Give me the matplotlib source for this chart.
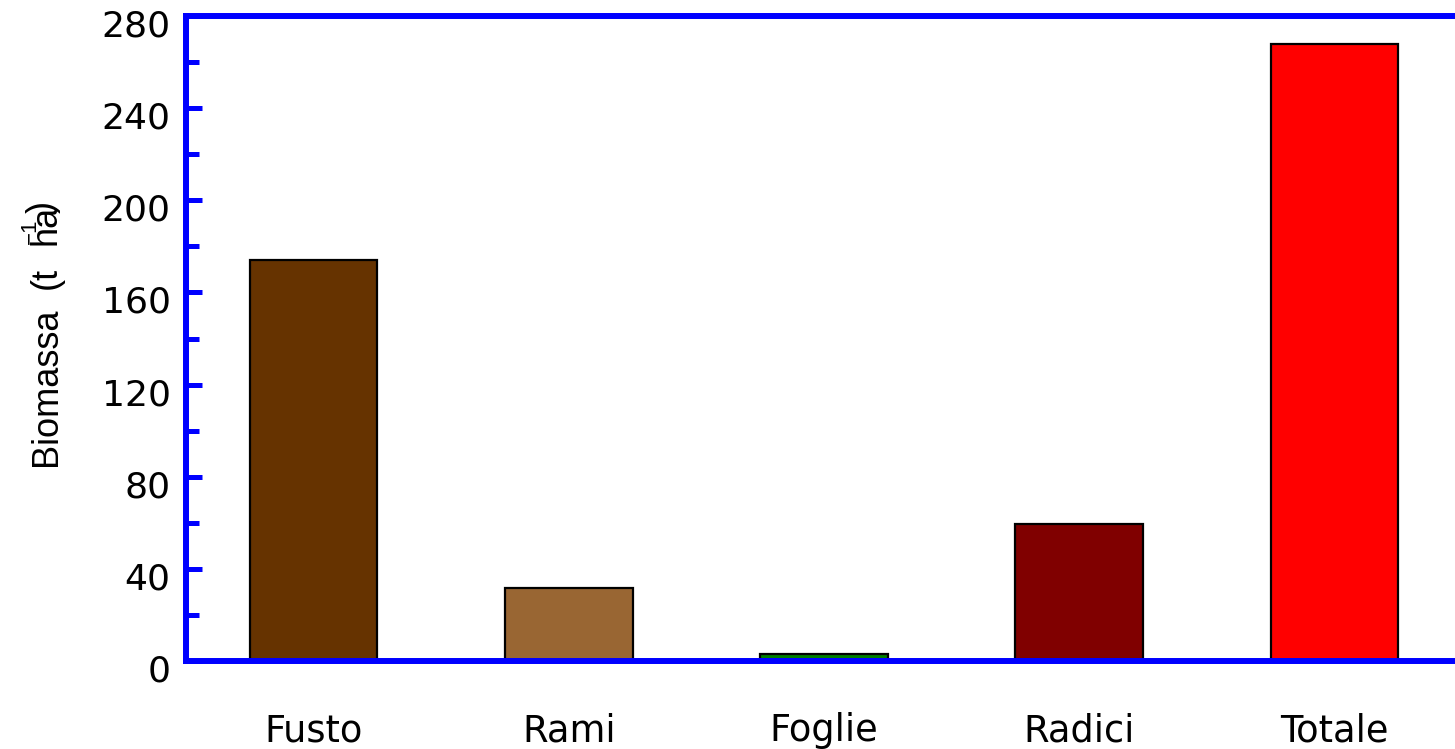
import matplotlib
matplotlib.use("Agg")
import matplotlib.pyplot as plt
from matplotlib.ticker import MultipleLocator
from matplotlib.transforms import IdentityTransform, ScaledTranslation

# Biomass per compartment (t/ha)
categories = ["Fusto", "Rami", "Foglie", "Radici", "Totale"]
biomass = [174, 31.5, 3, 59.5, 268]
bar_colors = ["#663300", "#996633", "#007F00", "#800000", "#FF0000"]
y_ticks = [0, 40, 80, 120, 160, 200, 240, 280]

W, H, DPI = 1455, 749, 100
fig = plt.figure(figsize=(W / DPI, H / DPI), dpi=DPI)
ax = fig.add_axes([186 / W, 88 / H, 1276 / W, 645 / H])

x = list(range(len(categories)))
ax.bar(x, biomass, width=0.5, color=bar_colors, edgecolor="black",
       linewidth=1.6, zorder=2)

ax.set_xlim(-0.5, 4.5)
ax.set_ylim(0, 280)

blue = "#0000FF"
for side in ("left", "top", "bottom"):
    ax.spines[side].set_color(blue)
    ax.spines[side].set_linewidth(4.3)
    ax.spines[side].set_zorder(3)
ax.spines["right"].set_visible(False)

ax.set_yticks(y_ticks)
ax.set_yticklabels([str(v) for v in y_ticks])
ax.yaxis.set_minor_locator(MultipleLocator(20))
ax.tick_params(axis="y", which="major", direction="in", length=11.5, width=3.6,
               color=blue, labelsize=26, pad=11, labelcolor="black")
ax.tick_params(axis="y", which="minor", direction="in", length=9.5, width=3.6,
               color=blue)
ax.set_xticks(x)
ax.set_xticklabels(categories)
ax.tick_params(axis="x", length=0, labelsize=26.5, pad=37, labelcolor="black")

# nudge the value labels slightly below their ticks
shift = ScaledTranslation(0, -7 / DPI, fig.dpi_scale_trans)
for lab in ax.get_yticklabels():
    lab.set_transform(lab.get_transform() + shift)
    lab.set_fontfamily("DejaVu Sans")
for lab in ax.get_xticklabels():
    lab.set_fontfamily("DejaVu Sans")

# axis title, set piece by piece
ident = IdentityTransform()
lab_kw = dict(rotation=90, rotation_mode="anchor", ha="left", va="baseline",
              family="Liberation Sans", color="black", transform=ident)
fig.text(56, H - 466, "Biomassa", fontsize=26, **lab_kw)
fig.text(56, H - 289, "(t", fontsize=26, **lab_kw)
fig.text(56, H - 245, "ha", fontsize=26, **lab_kw)
fig.text(53, H - 213, ")", fontsize=26, **lab_kw)
fig.text(36, H - 244, "\u22121", fontsize=16, **lab_kw)

fig.savefig("out.png", dpi=DPI)
